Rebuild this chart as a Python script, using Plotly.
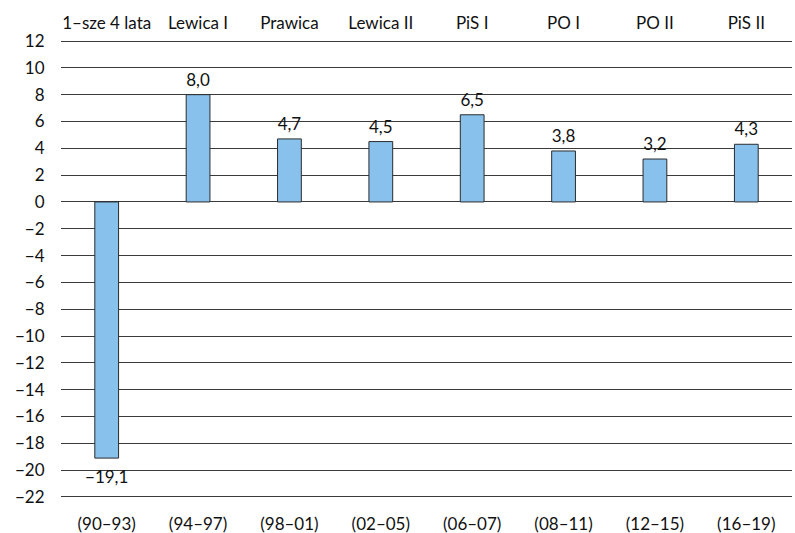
import plotly.graph_objects as go

names = ["1\u2013sze 4 lata", "Lewica I", "Prawica", "Lewica II", "PiS I", "PO I", "PO II", "PiS II"]
periods = ["(90\u201393)", "(94\u201397)", "(98\u201301)", "(02\u201305)", "(06\u201307)", "(08\u201311)", "(12\u201315)", "(16\u201319)"]
values = [-19.1, 8.0, 4.7, 4.5, 6.5, 3.8, 3.2, 4.3]
yticks = list(range(-22, 13, 2))

pos = list(range(len(values)))
labels = [f"{v:.1f}".replace(".", ",").replace("-", "\u2212") for v in values]
ytext = [str(t).replace("-", "\u2212") for t in yticks]
tpos = ["bottom center" if v < 0 else "top center" for v in values]
msize = [18 if v < 0 else 6 for v in values]

FONT = "Lato, 'Open Sans', sans-serif"
FS = 17

fig = go.Figure()
fig.add_trace(go.Bar(
    x=pos, y=values, width=0.26,
    marker=dict(color="#88C2EC", line=dict(color="#2b2b2b", width=1)),
    showlegend=False, hoverinfo="skip",
))
fig.add_trace(go.Scatter(
    x=pos, y=values, mode="markers+text", text=labels, textposition=tpos, cliponaxis=False,
    marker=dict(size=msize, opacity=0),
    textfont=dict(family=FONT, size=FS, color="#111"), showlegend=False, hoverinfo="skip",
))
fig.add_trace(go.Scatter(x=pos, y=[None]*len(pos), xaxis="x2", showlegend=False, hoverinfo="skip"))

fig.update_layout(
    width=795, height=533,
    margin=dict(l=61, r=3, t=39, b=34),
    paper_bgcolor="white", plot_bgcolor="white",
    font=dict(family=FONT, size=FS, color="#111"),
    xaxis=dict(range=[-0.5, 7.5], tickvals=pos, ticktext=periods, showgrid=False, automargin=False,
               zeroline=False, showline=False, ticks="outside", ticklen=10, tickcolor="rgba(0,0,0,0)",
               tickfont=dict(size=FS)),
    xaxis2=dict(range=[-0.5, 7.5], tickvals=pos, ticktext=names, overlaying="x", side="top",
                automargin=False, showgrid=False, zeroline=False, showline=False, ticks="outside",
                ticklen=2, tickcolor="rgba(0,0,0,0)", tickfont=dict(size=FS)),
    yaxis=dict(range=[-22.15, 12.15], tickvals=yticks, ticktext=ytext, showgrid=True, automargin=False,
               gridcolor="#3a3a3a", gridwidth=1, zeroline=True, zerolinecolor="#3a3a3a",
               zerolinewidth=1, showline=False, ticks="outside", ticklen=12, tickcolor="rgba(0,0,0,0)",
               tickfont=dict(size=FS)),
)

fig.write_html("out.html", config={"displayModeBar": False},
               post_script="document.body.style.margin='0';document.body.style.padding='0';")
